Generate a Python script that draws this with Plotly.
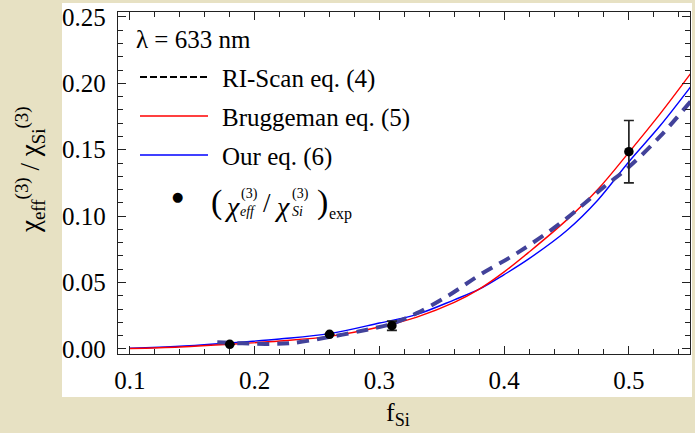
import plotly.graph_objects as go

# ---------------- data ----------------
x_model = [0.10, 0.14, 0.18, 0.22, 0.26, 0.30, 0.33, 0.36, 0.38, 0.40,
           0.42, 0.45, 0.475, 0.50, 0.525, 0.55]
y_bruggeman = [0.0003, 0.0015, 0.0035, 0.0060, 0.0095, 0.0165, 0.0240, 0.0350,
               0.0450, 0.0580, 0.0730, 0.0970, 0.1200, 0.1480, 0.1770, 0.2080]
y_our = [0.0005, 0.0020, 0.0045, 0.0075, 0.0115, 0.0195, 0.0260, 0.0370,
         0.0450, 0.0560, 0.0680, 0.0890, 0.1120, 0.1410, 0.1680, 0.1980]

x_riscan = [0.17, 0.19, 0.21, 0.23, 0.26, 0.29, 0.31, 0.33, 0.355, 0.38,
            0.41, 0.445, 0.48, 0.50, 0.525, 0.55]
y_riscan = [0.0050, 0.0042, 0.0038, 0.0045, 0.0090, 0.0145, 0.0190, 0.0270,
            0.0400, 0.0555, 0.0720, 0.0946, 0.1220, 0.1370, 0.1600, 0.1870]

x_exp = [0.18, 0.26, 0.31, 0.50]
y_exp = [0.0035, 0.0110, 0.0175, 0.1485]
err_exp = [None, None, 0.0035, 0.0235]

x_tickvals = [0.1, 0.2, 0.3, 0.4, 0.5]
y_tickvals = [0.00, 0.05, 0.10, 0.15, 0.20, 0.25]

legend_labels = ["RI-Scan eq. (4)", "Bruggeman eq. (5)", "Our eq. (6)"]
wavelength_label = "λ = 633 nm"

# ---------------- layout geometry ----------------
W, H = 695, 433
L, R, T, B = 118, 5, 12, 79
PW, PH = W - L - R, H - T - B
SERIF = "Liberation Serif, Times New Roman, serif"
AX = "#222222"


def px(xp, yp):
    """pixel position -> paper coordinates"""
    return (xp - L) / PW, (H - B - yp) / PH


fig = go.Figure()

fig.add_trace(go.Scatter(x=x_model, y=y_our, mode="lines", name=legend_labels[2],
                         line=dict(color="#0000ff", width=1.4), line_shape="spline"))
fig.add_trace(go.Scatter(x=x_model, y=y_bruggeman, mode="lines", name=legend_labels[1],
                         line=dict(color="#ff0000", width=1.4), line_shape="spline"))
fig.add_trace(go.Scatter(x=x_riscan, y=y_riscan, mode="lines", name=legend_labels[0],
                         line=dict(color="#42429a", width=4, dash="12px,8px"),
                         line_shape="spline"))
fig.add_trace(go.Scatter(x=x_exp, y=y_exp, mode="markers", name="exp",
                         marker=dict(color="black", size=9.5),
                         error_y=dict(type="data", array=err_exp, visible=True,
                                      color="#222222", thickness=1.7, width=5)))

shapes = []
# white panel behind the chart
x0, y0 = px(62, 397)
x1, y1 = px(692, 3)
shapes.append(dict(type="rect", xref="paper", yref="paper", x0=x0, y0=y0, x1=x1, y1=y1,
                   fillcolor="white", line=dict(width=0), layer="below"))

# manual legend
leg_rows = [77, 116, 155]
leg_styles = [dict(color="black", width=2, dash="7px,3px"),
              dict(color="#ff0000", width=1.4),
              dict(color="#0000ff", width=1.4)]
annotations = []
for yrow, st, lab in zip(leg_rows, leg_styles, legend_labels):
    ax0, ay = px(140, yrow)
    ax1, _ = px(208, yrow)
    shapes.append(dict(type="line", xref="paper", yref="paper", x0=ax0, x1=ax1,
                       y0=ay, y1=ay, line=st))
    tx, ty = px(220, yrow + 2)
    annotations.append(dict(x=tx, y=ty, xref="paper", yref="paper", text=lab,
                            showarrow=False, xanchor="left", yanchor="middle",
                            font=dict(family=SERIF, size=25, color="black")))

# lambda label
tx, ty = px(134, 39)
annotations.append(dict(x=tx, y=ty, xref="paper", yref="paper", text=wavelength_label,
                        showarrow=False, xanchor="left", yanchor="middle",
                        font=dict(family=SERIF, size=25, color="black")))

# dot marker in legend (drawn as annotation glyph)
tx, ty = px(177, 196)
annotations.append(dict(x=tx, y=ty, xref="paper", yref="paper", text="●",
                        showarrow=False, xanchor="center", yanchor="middle",
                        font=dict(family="DejaVu Sans", size=13, color="black")))

# math-like legend label (χ_eff^(3) / χ_Si^(3))_exp
pieces = [
    ("(", 209, 202, 34, False),
    ("χ", 222, 206, 28, True),
    ("(3)", 239, 194, 14, False),
    ("eff", 238, 211, 14, True),
    ("/", 261, 203, 27, False),
    ("χ", 272, 206, 28, True),
    ("(3)", 290, 194, 14, False),
    ("Si", 290, 211, 14, True),
    (")", 315, 202, 34, False),
    ("exp", 327, 214, 16, False),
]
for txt, xp, yp, fs, ital in pieces:
    tx, ty = px(xp, yp)
    annotations.append(dict(x=tx, y=ty, xref="paper", yref="paper",
                            text=f"<i>{txt}</i>" if ital else txt,
                            showarrow=False, xanchor="left", yanchor="middle",
                            font=dict(family=SERIF, size=fs, color="black")))

# axis titles
tx, ty = px(398, 414)
annotations.append(dict(x=tx, y=ty, xref="paper", yref="paper", text="f<sub>Si</sub>",
                        showarrow=False, xanchor="center", yanchor="middle",
                        font=dict(family=SERIF, size=26, color="black")))
tx, ty = px(30, 170)
annotations.append(dict(x=tx, y=ty, xref="paper", yref="paper",
                        text="χ<sub>eff</sub><sup>(3)</sup> / χ<sub>Si</sub><sup>(3)</sup>",
                        textangle=-90, showarrow=False, xanchor="center", yanchor="middle",
                        font=dict(family=SERIF, size=27, color="black")))

axis_common = dict(showline=True, linecolor=AX, linewidth=1.3, mirror="ticks",
                   ticks="inside", ticklen=8, tickwidth=1.2, tickcolor=AX,
                   showgrid=False, zeroline=False,
                   tickfont=dict(family=SERIF, size=25, color="black"))

fig.update_layout(
    width=W, height=H,
    margin=dict(l=L, r=R, t=T, b=B, pad=0),
    paper_bgcolor="#e7e1c3",
    plot_bgcolor="white",
    showlegend=False,
    shapes=shapes,
    annotations=annotations,
    xaxis=dict(range=[0.0904, 0.549], tickvals=x_tickvals,
               ticktext=[f"{v:.1f}" for v in x_tickvals],
               minor=dict(ticks="inside", dtick=0.02, tick0=0.1, ticklen=4.5,
                          tickwidth=1, tickcolor=AX),
               ticklabelstandoff=4, **axis_common),
    yaxis=dict(range=[-0.0038, 0.2537], tickvals=y_tickvals,
               ticktext=[f"{v:.2f}" for v in y_tickvals],
               minor=dict(ticks="inside", dtick=0.01, tick0=0, ticklen=4.5,
                          tickwidth=1, tickcolor=AX),
               ticklabelstandoff=6, **axis_common),
)

fig.write_html("out.html")
